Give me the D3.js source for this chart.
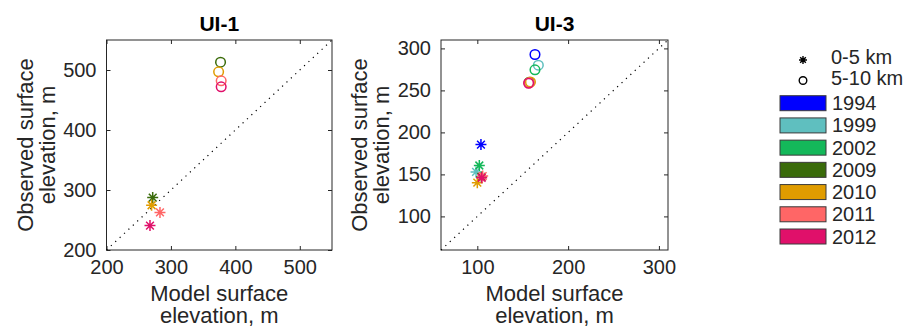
<!DOCTYPE html>
<html>
<head>
<meta charset="utf-8">
<script src="https://cdn.jsdelivr.net/npm/d3@7"></script>
<style>
  body { margin: 0; background: #fff; }
  svg text { font-family: "Liberation Sans", Arial, Helvetica, sans-serif; fill: #262626; }
</style>
</head>
<body>
<svg id="chart" width="910" height="326"></svg>
<script>
// legend years and their colours
const years = ["1994", "1999", "2002", "2009", "2010", "2011", "2012"];
const yearColors = ["#0000ff", "#5fbfbf", "#14b85a", "#3a6b0a", "#e09c00", "#ff6666", "#e0106a"];

// UI-1: [year, model, observed]
const ui1Near = [["2009", 271.7, 287.3], ["2010", 270, 274.6], ["2011", 283, 262.6], ["2012", 267.5, 240.7]];
const ui1Far = [["2009", 377, 513], ["2010", 374, 497], ["2011", 378, 482], ["2012", 378, 472]];

// UI-3: [year, model, observed]
const ui3Near = [["1994", 104, 185.5], ["1999", 98.6, 153], ["2002", 102.2, 160.6], ["2009", 104.5, 147],
  ["2010", 100, 140.2], ["2011", 105.9, 148], ["2012", 104.8, 146]];
const ui3Far = [["1994", 163.5, 292.7], ["1999", 167.2, 280], ["2002", 163.5, 274.5], ["2009", 157, 259.5],
  ["2010", 158.5, 260], ["2011", 157, 259], ["2012", 156.5, 258.5]];

const ui1Ticks = [200, 300, 400, 500];
const ui3XTicks = [100, 200, 300];
const ui3YTicks = [100, 150, 200, 250, 300];

const svg = d3.select("#chart");
const color = d3.scaleOrdinal().domain(years).range(yearColors);
const axisColor = "#262626";

const starPath = (s) => {
  const d = s * 0.7071;
  return `M${-s},0L${s},0M0,${-s}L0,${s}M${-d},${-d}L${d},${d}M${-d},${d}L${d},${-d}`;
};

function panel(opts) {
  const g = svg.append("g");
  const x = d3.scaleLinear().domain(opts.domain).range([opts.left, opts.left + opts.width]);
  const y = d3.scaleLinear().domain(opts.domain).range([opts.top + opts.height, opts.top]);

  // box
  g.append("rect")
    .attr("x", opts.left).attr("y", opts.top)
    .attr("width", opts.width).attr("height", opts.height)
    .attr("fill", "#fff").attr("stroke", axisColor).attr("stroke-width", 1);

  // ticks on all four sides, pointing inward
  const tk = 4;
  g.append("g").attr("transform", `translate(0,${opts.top + opts.height})`)
    .call(d3.axisBottom(x).tickValues(opts.xTicks).tickSizeInner(-tk).tickSizeOuter(0).tickPadding(10))
    .call(a => a.select(".domain").remove())
    .call(a => a.selectAll("line").attr("stroke", axisColor))
    .call(a => a.selectAll("text").attr("font-size", 20).attr("fill", axisColor).attr("font-family", null));
  g.append("g").attr("transform", `translate(0,${opts.top})`)
    .call(d3.axisTop(x).tickValues(opts.xTicks).tickSizeInner(-tk).tickSizeOuter(0).tickFormat(""))
    .call(a => a.select(".domain").remove())
    .call(a => a.selectAll("line").attr("stroke", axisColor));
  g.append("g").attr("transform", `translate(${opts.left},0)`)
    .call(d3.axisLeft(y).tickValues(opts.yTicks).tickSizeInner(-tk).tickSizeOuter(0).tickPadding(10))
    .call(a => a.select(".domain").remove())
    .call(a => a.selectAll("line").attr("stroke", axisColor))
    .call(a => a.selectAll("text").attr("font-size", 20).attr("fill", axisColor).attr("font-family", null));
  g.append("g").attr("transform", `translate(${opts.left + opts.width},0)`)
    .call(d3.axisRight(y).tickValues(opts.yTicks).tickSizeInner(-tk).tickSizeOuter(0).tickFormat(""))
    .call(a => a.select(".domain").remove())
    .call(a => a.selectAll("line").attr("stroke", axisColor));

  // 1:1 line
  g.append("line")
    .attr("x1", x(opts.domain[0])).attr("y1", y(opts.domain[0]))
    .attr("x2", x(opts.domain[1])).attr("y2", y(opts.domain[1]))
    .attr("stroke", "#000").attr("stroke-width", 1.2)
    .attr("stroke-dasharray", "1.2,4.8");

  // points
  g.selectAll(".far").data(opts.far).join("circle")
    .attr("cx", d => x(d[1])).attr("cy", d => y(d[2])).attr("r", 4.8)
    .attr("fill", "none").attr("stroke", d => color(d[0])).attr("stroke-width", 1.5);
  g.selectAll(".near").data(opts.near).join("path")
    .attr("transform", d => `translate(${x(d[1])},${y(d[2])})`)
    .attr("d", starPath(5.5))
    .attr("fill", "none").attr("stroke", d => color(d[0])).attr("stroke-width", 1.5);

  // title
  g.append("text")
    .attr("x", opts.left + opts.width / 2).attr("y", 31)
    .attr("text-anchor", "middle").attr("font-size", 21).attr("font-weight", "bold")
    .style("fill", "#000")
    .text(opts.title);

  // x label
  const cx = opts.left + opts.width / 2;
  g.append("text").attr("x", cx).attr("y", 301).attr("text-anchor", "middle").attr("font-size", 22).text("Model surface");
  g.append("text").attr("x", cx).attr("y", 323).attr("text-anchor", "middle").attr("font-size", 22).text("elevation, m");

  // y label
  const cy = opts.top + opts.height / 2;
  g.append("text").attr("transform", `translate(${opts.left - 74},${cy}) rotate(-90)`)
    .attr("text-anchor", "middle").attr("font-size", 22).text("Observed surface");
  g.append("text").attr("transform", `translate(${opts.left - 52},${cy}) rotate(-90)`)
    .attr("text-anchor", "middle").attr("font-size", 22).text("elevation, m");
}

panel({ title: "UI-1", left: 106.5, top: 40, width: 225.5, height: 210, domain: [200, 550],
  xTicks: ui1Ticks, yTicks: ui1Ticks, near: ui1Near, far: ui1Far });
panel({ title: "UI-3", left: 441, top: 40, width: 227, height: 210, domain: [60, 310],
  xTicks: ui3XTicks, yTicks: ui3YTicks, near: ui3Near, far: ui3Far });

// legend
const leg = svg.append("g");
leg.append("path").attr("transform", "translate(803,60)").attr("d", starPath(4))
  .attr("fill", "none").attr("stroke", "#000").attr("stroke-width", 1.4);
leg.append("text").attr("x", 831).attr("y", 64).attr("font-size", 20).text("0-5 km");
leg.append("circle").attr("cx", 803).attr("cy", 80.5).attr("r", 3.8)
  .attr("fill", "none").attr("stroke", "#000").attr("stroke-width", 1.4);
leg.append("text").attr("x", 831).attr("y", 85).attr("font-size", 20).text("5-10 km");

const rowY = d3.scalePoint().domain(years).range([95.7, 229]);
const rows = leg.selectAll(".row").data(years).join("g")
  .attr("transform", d => `translate(0,${rowY(d)})`);
rows.append("rect").attr("x", 780).attr("y", 0).attr("width", 46).attr("height", 15)
  .attr("fill", d => color(d)).attr("stroke", "#3a3a3a").attr("stroke-width", 1);
rows.append("text").attr("x", 832).attr("y", 14.5).attr("font-size", 20).text(d => d);
</script>
</body>
</html>
